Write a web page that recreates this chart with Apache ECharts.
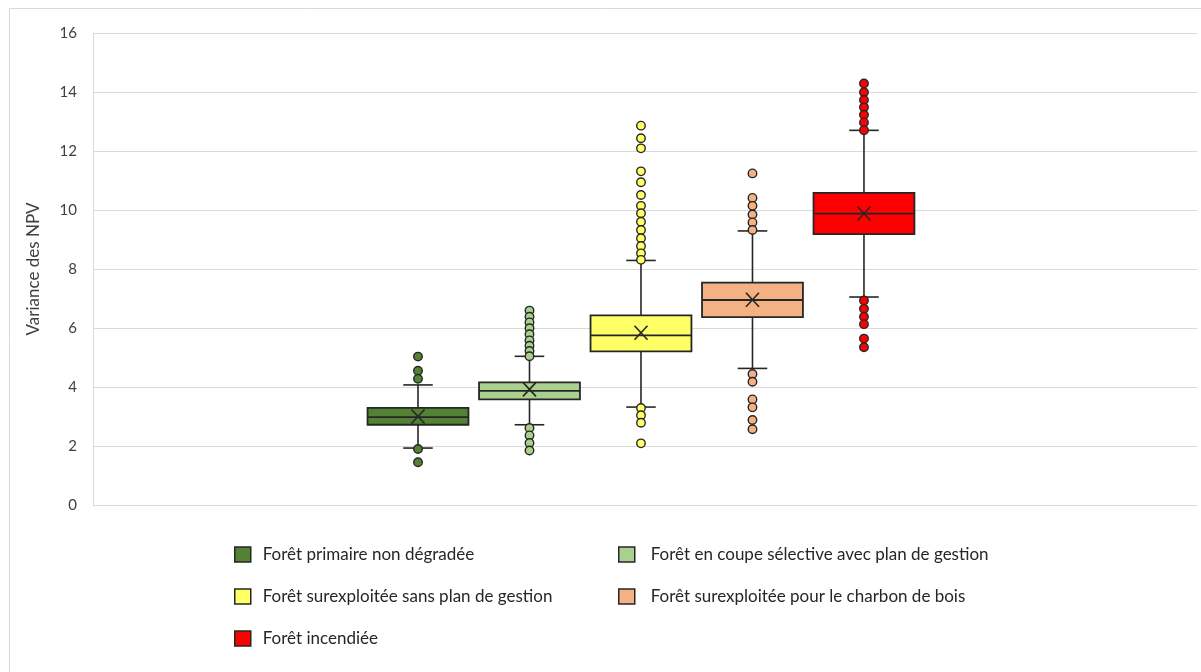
<!DOCTYPE html>
<html>
<head>
<meta charset="utf-8">
<script src="https://cdn.jsdelivr.net/npm/echarts@6/dist/echarts.min.js"></script>
<style>
html,body{margin:0;padding:0;background:#fff;}
#chart{width:1201px;height:672px;}
</style>
</head>
<body>
<div id="chart"></div>
<script>
// ---- Data ----
const categories = [
  'Forêt primaire non dégradée',
  'Forêt en coupe sélective avec plan de gestion',
  'Forêt surexploitée sans plan de gestion',
  'Forêt surexploitée pour le charbon de bois',
  'Forêt incendiée'
];
const whiskerLow  = [1.93, 2.72, 3.32, 4.63, 7.05];
const q1          = [2.72, 3.58, 5.21, 6.37, 9.18];
const median      = [2.98, 3.87, 5.75, 6.95, 9.88];
const q3          = [3.29, 4.16, 6.43, 7.54, 10.58];
const whiskerHigh = [4.07, 5.04, 8.29, 9.29, 12.70];
const mean        = [3.00, 3.92, 5.84, 6.96, 9.88];

const outliers1 = [5.03, 4.55, 4.28, 1.90, 1.45];
const outliers2 = [6.59, 6.38, 6.19, 5.99, 5.79, 5.58, 5.40, 5.22, 5.04, 2.61, 2.36, 2.10, 1.85];
const outliers3 = [12.86, 12.43, 12.09, 11.31, 10.94, 10.51, 10.14, 9.89, 9.60, 9.32, 9.04, 8.78, 8.53, 8.31, 3.29, 3.04, 2.79, 2.09];
const outliers4 = [11.24, 10.41, 10.14, 9.85, 9.58, 9.32, 4.44, 4.18, 3.58, 3.31, 2.88, 2.57];
const outliers5 = [14.29, 13.99, 13.73, 13.48, 13.23, 12.97, 12.70, 6.93, 6.65, 6.38, 6.13, 5.64, 5.35];
const outliers = [outliers1, outliers2, outliers3, outliers4, outliers5];

const yTicks = [0, 2, 4, 6, 8, 10, 12, 14, 16];

// ---- Styles ----
const colors = ['#548235', '#A9D08E', '#FFFF66', '#F4B183', '#FF0000'];
const dark = '#262626';
const FONT = 'Lato, "Open Sans", sans-serif';

const boxData = categories.map((c, i) => [i, whiskerLow[i], q1[i], median[i], q3[i], whiskerHigh[i], mean[i]]);

function renderBox(params, api) {
  const i = params.dataIndex;
  const x = api.value(0);
  const unit = api.size([1, 0])[0];
  const boxW = unit * 0.905;
  const capW = unit * 0.265;
  const pLow = api.coord([x, api.value(1)]);
  const pQ1 = api.coord([x, api.value(2)]);
  const pMed = api.coord([x, api.value(3)]);
  const pQ3 = api.coord([x, api.value(4)]);
  const pHigh = api.coord([x, api.value(5)]);
  const pMean = api.coord([x, api.value(6)]);
  const cx = pMed[0];
  const lineStyle = {stroke: dark, lineWidth: 1.6};
  const xs = 6.5, ys = 7;
  return {
    type: 'group',
    children: [
      {type: 'line', shape: {x1: cx, y1: pLow[1], x2: cx, y2: pQ1[1]}, style: lineStyle},
      {type: 'line', shape: {x1: cx, y1: pQ3[1], x2: cx, y2: pHigh[1]}, style: lineStyle},
      {type: 'line', shape: {x1: cx - capW / 2, y1: pLow[1], x2: cx + capW / 2, y2: pLow[1]}, style: lineStyle},
      {type: 'line', shape: {x1: cx - capW / 2, y1: pHigh[1], x2: cx + capW / 2, y2: pHigh[1]}, style: lineStyle},
      {type: 'rect', shape: {x: cx - boxW / 2, y: pQ3[1], width: boxW, height: pQ1[1] - pQ3[1]},
        style: {fill: colors[i], stroke: dark, lineWidth: 1.8}},
      {type: 'line', shape: {x1: cx - boxW / 2, y1: pMed[1], x2: cx + boxW / 2, y2: pMed[1]}, style: {stroke: dark, lineWidth: 1.8}},
      {type: 'line', shape: {x1: cx - xs, y1: pMean[1] - ys, x2: cx + xs, y2: pMean[1] + ys}, style: {stroke: dark, lineWidth: 1.6}},
      {type: 'line', shape: {x1: cx - xs, y1: pMean[1] + ys, x2: cx + xs, y2: pMean[1] - ys}, style: {stroke: dark, lineWidth: 1.6}}
    ]
  };
}

const series = [{
  type: 'custom',
  name: 'boxes',
  renderItem: renderBox,
  data: boxData,
  z: 2,
  encode: {x: 0, y: [1, 5]}
}];
categories.forEach((c, i) => {
  series.push({
    type: 'scatter',
    name: c,
    data: outliers[i].map(v => [i, v]),
    symbol: 'circle',
    symbolSize: 8.5,
    z: 5,
    itemStyle: {color: colors[i], borderColor: dark, borderWidth: 1.4, opacity: 1}
  });
});

const legendPos = [
  {left: 234, top: 546},
  {left: 618, top: 546},
  {left: 234, top: 588},
  {left: 618, top: 588},
  {left: 234, top: 630}
];
const legends = categories.map((c, i) => ({
  left: legendPos[i].left,
  top: legendPos[i].top,
  padding: 0,
  orient: 'horizontal',
  selectedMode: false,
  itemWidth: 16,
  itemHeight: 15,
  data: [{name: c, icon: 'rect', itemStyle: {color: colors[i], borderColor: dark, borderWidth: 1.5}}],
  textStyle: {fontFamily: FONT, fontSize: 17, color: dark, padding: [0, 0, 0, i % 2 === 0 ? 7 : 11]}
}));

const option = {
  backgroundColor: '#ffffff',
  animation: false,
  grid: {left: 93, right: 4, top: 33, bottom: 167},
  xAxis: {
    type: 'value',
    min: -2.915,
    max: 6.987,
    show: false
  },
  yAxis: {
    type: 'value',
    min: yTicks[0],
    max: yTicks[yTicks.length - 1],
    interval: 2,
    name: 'Variance des NPV',
    nameLocation: 'middle',
    nameGap: 51,
    nameTextStyle: {fontFamily: FONT, fontSize: 17, color: '#404040'},
    axisLine: {show: true, onZero: false, lineStyle: {color: '#d9d9d9', width: 1}},
    axisTick: {show: false},
    axisLabel: {fontFamily: FONT, fontSize: 15, color: '#404040', margin: 16},
    splitLine: {show: true, lineStyle: {color: '#d9d9d9', width: 1}}
  },
  legend: legends,
  graphic: [{
    type: 'rect',
    shape: {x: 9.5, y: 8.5, width: 1200, height: 700},
    style: {fill: 'none', stroke: '#d9d9d9', lineWidth: 1},
    silent: true,
    z: -1
  }],
  series: series
};

const chart = echarts.init(document.getElementById('chart'), null, {renderer: 'canvas'});
chart.setOption(option);
</script>
</body>
</html>
